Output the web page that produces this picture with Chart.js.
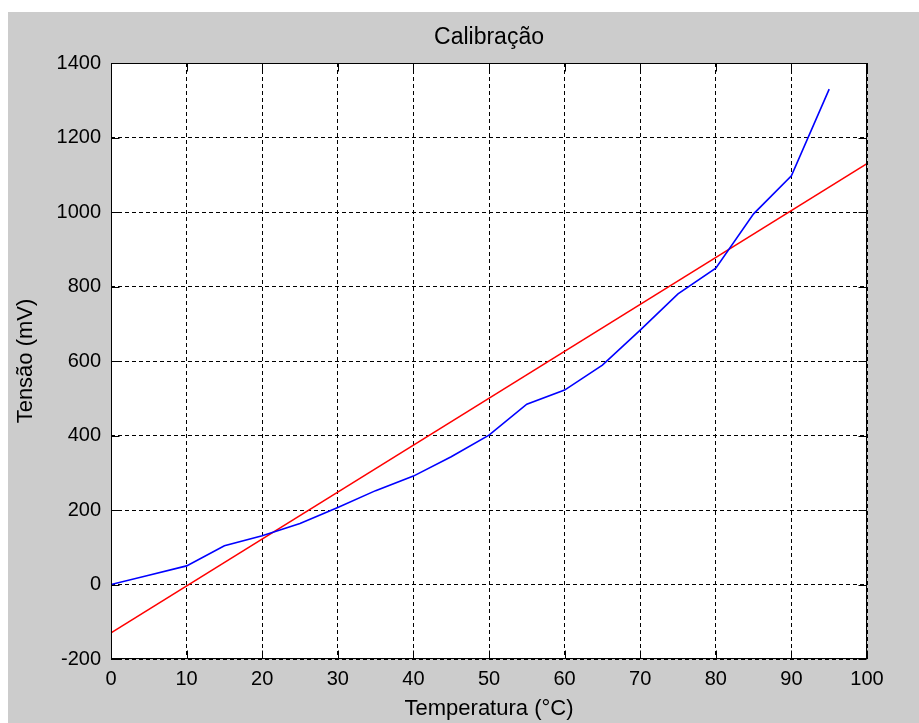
<!DOCTYPE html>
<html>
<head>
<meta charset="utf-8">
<title>Calibração</title>
<script src="https://cdn.jsdelivr.net/npm/chart.js@4.4.1/dist/chart.umd.min.js"></script>
<style>
    html, body { margin: 0; padding: 0; background: #ffffff; }
    #moldura {
        position: absolute;
        left: 8px;
        top: 12px;
        width: 911px;
        height: 711px;
        background: #cccccc;
    }
</style>
</head>
<body>
<div id="moldura">
    <canvas id="grafico-calibracao" width="911" height="711"></canvas>
</div>
<script>
// Dados
const temperaturaMedida = [0, 5, 10, 15, 20, 25, 30, 35, 40, 45, 50, 55, 60, 65, 70, 75, 80, 85, 90, 95];
const tensaoMedida = [0, 25, 50, 104, 131, 164, 207, 252, 291, 343, 401, 484, 522, 589, 683, 780, 849, 995, 1097, 1330];

const temperaturaAjuste = [0, 100];
const tensaoAjuste = [-130, 1130];

const ticksX = [0, 10, 20, 30, 40, 50, 60, 70, 80, 90, 100];
const ticksY = [-200, 0, 200, 400, 600, 800, 1000, 1200, 1400];

const tituloGrafico = 'Calibração';
const fonte = '"Liberation Sans", Arial, Helvetica, sans-serif';

function paraPontos(xs, ys) {
    return xs.map(function (x, i) {
        return { x: x, y: ys[i] };
    });
}

// Plugin: caixa preta em volta da área, marcas de escala para dentro e título
const caixaEixos = {
    id: 'caixaEixos',
    afterDraw: function (chart) {
        const ctx = chart.ctx;
        const a = chart.chartArea;
        const esq = Math.round(a.left) + 0.5;
        const dir = Math.round(a.right) - 0.5;
        const topo = Math.round(a.top) + 0.5;
        const base = Math.round(a.bottom) - 0.5;
        const tam = 8;
        ctx.save();
        ctx.strokeStyle = '#000000';
        ctx.lineWidth = 1;
        ctx.setLineDash([]);
        ctx.beginPath();
        chart.scales.x.ticks.forEach(function (t) {
            const px = Math.round(chart.scales.x.getPixelForValue(t.value)) + 0.5;
            ctx.moveTo(px, base);
            ctx.lineTo(px, base - tam);
            ctx.moveTo(px, topo);
            ctx.lineTo(px, topo + tam);
        });
        chart.scales.y.ticks.forEach(function (t) {
            const py = Math.round(chart.scales.y.getPixelForValue(t.value)) + 0.5;
            ctx.moveTo(esq, py);
            ctx.lineTo(esq + tam, py);
            ctx.moveTo(dir, py);
            ctx.lineTo(dir - tam, py);
        });
        ctx.stroke();
        ctx.strokeRect(esq, topo, dir - esq, base - topo);

        // título centrado sobre a área de plotagem
        ctx.fillStyle = '#000000';
        ctx.font = '23px ' + fonte;
        ctx.textAlign = 'center';
        ctx.textBaseline = 'middle';
        ctx.fillText(tituloGrafico, (a.left + a.right) / 2, 26);
        ctx.restore();
    }
};

// Plugin: fundo branco da área de plotagem
const fundoArea = {
    id: 'fundoArea',
    beforeDraw: function (chart) {
        const a = chart.chartArea;
        chart.ctx.save();
        chart.ctx.fillStyle = '#ffffff';
        chart.ctx.fillRect(a.left, a.top, a.right - a.left, a.bottom - a.top);
        chart.ctx.restore();
    }
};

const ctx = document.getElementById('grafico-calibracao').getContext('2d');
new Chart(ctx, {
    type: 'line',
    data: {
        datasets: [{
            label: 'Medido',
            data: paraPontos(temperaturaMedida, tensaoMedida),
            borderColor: '#0000ff',
            borderWidth: 1.6,
            pointRadius: 0,
            tension: 0,
            fill: false
        }, {
            label: 'Ajuste',
            data: paraPontos(temperaturaAjuste, tensaoAjuste),
            borderColor: '#ff0000',
            borderWidth: 1.6,
            pointRadius: 0,
            tension: 0,
            fill: false
        }]
    },
    options: {
        responsive: false,
        animation: false,
        layout: {
            padding: { left: 0, right: 52, top: 51, bottom: 0 }
        },
        plugins: {
            legend: { display: false },
            tooltip: { enabled: false },
            title: { display: false }
        },
        scales: {
            x: {
                type: 'linear',
                min: 0,
                max: 100,
                afterBuildTicks: function (scale) {
                    scale.ticks = ticksX.map(function (v) { return { value: v }; });
                },
                afterFit: function (scale) {
                    scale.height = 64;
                },
                grid: {
                    color: '#000000',
                    lineWidth: 1,
                    drawTicks: false
                },
                border: { display: false, dash: [4, 3] },
                ticks: {
                    color: '#000000',
                    padding: 8,
                    maxRotation: 0,
                    font: { family: fonte, size: 20 },
                    callback: function (v) { return String(v); }
                },
                title: {
                    display: true,
                    text: 'Temperatura (°C)',
                    color: '#000000',
                    font: { family: fonte, size: 22 },
                    padding: { top: 0, bottom: 1 }
                }
            },
            y: {
                type: 'linear',
                min: -200,
                max: 1400,
                afterBuildTicks: function (scale) {
                    scale.ticks = ticksY.map(function (v) { return { value: v }; });
                },
                afterFit: function (scale) {
                    scale.width = 103;
                },
                grid: {
                    color: '#000000',
                    lineWidth: 1,
                    drawTicks: false
                },
                border: { display: false, dash: [4, 3] },
                ticks: {
                    color: '#000000',
                    padding: 10,
                    font: { family: fonte, size: 20 },
                    callback: function (v) { return String(v); }
                },
                title: {
                    display: true,
                    text: 'Tensão (mV)',
                    color: '#000000',
                    font: { family: fonte, size: 22 },
                    padding: { top: 5, bottom: 0 }
                }
            }
        }
    },
    plugins: [fundoArea, caixaEixos]
});
</script>
</body>
</html>
